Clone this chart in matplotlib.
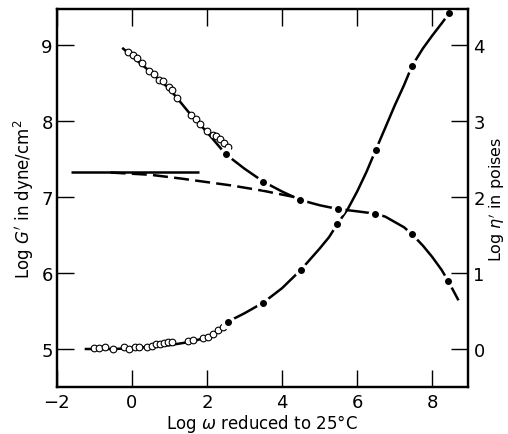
#!/usr/bin/env python3
"""
Log G' e Log eta' versus Log omega reduzido a 25°C
"""

import matplotlib.pyplot as plt

# G' (eixo esquerdo) - pontos abertos
gp_open_x = [-1.02, -0.88, -0.71, -0.50, -0.22, -0.07, 0.07, 0.19, 0.40, 0.53, 0.64,
             0.75, 0.86, 0.97, 1.08, 1.50, 1.63, 1.90, 2.03, 2.16, 2.30, 2.43]
gp_open_y = [5.01, 5.01, 5.02, 5.00, 5.03, 5.00, 5.02, 5.02, 5.03, 5.04, 5.07,
             5.07, 5.08, 5.09, 5.09, 5.10, 5.12, 5.14, 5.16, 5.20, 5.25, 5.29]
# G' - pontos cheios
gp_dot_x = [2.56, 3.50, 4.50, 5.47, 6.49, 7.46, 8.46]
gp_dot_y = [5.36, 5.61, 6.04, 6.64, 7.61, 8.72, 9.42]
# G' - curva desenhada
gp_curve_x = [-1.26, -0.5, 0.0, 0.5, 1.0, 1.5, 2.0, 2.3, 2.56, 3.0, 3.5, 4.0, 4.5,
              5.0, 5.25, 5.47, 5.75, 6.0, 6.25, 6.49, 6.75, 7.0, 7.25, 7.46,
              7.75, 8.0, 8.25, 8.46]
gp_curve_y = [5.00, 5.00, 5.01, 5.03, 5.05, 5.09, 5.15, 5.24, 5.36, 5.47, 5.61, 5.80,
              6.04, 6.32, 6.47, 6.64, 6.84, 7.07, 7.33, 7.61, 7.91, 8.20, 8.47, 8.72,
              8.95, 9.12, 9.28, 9.42]

# eta' (eixo direito) - pontos abertos
eta_open_x = [-0.11, 0.02, 0.13, 0.26, 0.46, 0.60, 0.73, 0.84, 0.99, 1.06, 1.19,
              1.57, 1.70, 1.81, 1.99, 2.16, 2.25, 2.34, 2.46, 2.56]
eta_open_y = [3.90, 3.86, 3.82, 3.76, 3.66, 3.61, 3.54, 3.52, 3.44, 3.40, 3.30,
              3.07, 3.02, 2.96, 2.87, 2.81, 2.80, 2.76, 2.71, 2.65]
# eta' - pontos cheios
eta_dot_x = [2.50, 3.50, 4.48, 5.49, 6.47, 7.46, 8.43]
eta_dot_y = [2.56, 2.20, 1.96, 1.84, 1.78, 1.51, 0.89]
# eta' - curva desenhada
eta_curve_x = [-0.26, 0.5, 1.0, 1.5, 2.0, 2.5, 3.0, 3.5, 4.0, 4.48, 5.0, 5.49,
               6.0, 6.47, 6.75, 7.0, 7.25, 7.46, 7.75, 8.0, 8.25, 8.43, 8.70]
eta_curve_y = [3.96, 3.64, 3.42, 3.12, 2.85, 2.56, 2.37, 2.20, 2.07, 1.96, 1.89,
               1.84, 1.81, 1.78, 1.74, 1.67, 1.60, 1.51, 1.36, 1.21, 1.04, 0.89, 0.64]
# extrapolacao tracejada
eta_dash_x = [-0.57, 0.5, 1.32, 2.65, 3.5, 4.3]
eta_dash_y = [2.32, 2.29, 2.24, 2.15, 2.08, 2.00]
# viscosidade em fluxo estacionario
eta_flow_x = [-1.62, 1.79]
eta_flow_y = [2.33, 2.33]

x_ticks = [-2, 0, 2, 4, 6, 8]
gp_ticks = [5, 6, 7, 8, 9]
eta_ticks = [0, 1, 2, 3, 4]


def criar_grafico():
    fig = plt.figure(figsize=(5.08, 4.35), dpi=100)
    ax = fig.add_axes([0.112, 0.108, 0.809, 0.869])
    ax2 = ax.twinx()

    lw = 1.8
    # G'
    ax.plot(gp_curve_x, gp_curve_y, color='black', lw=lw, solid_capstyle='butt', zorder=2)
    ax.plot(gp_open_x, gp_open_y, 'o', ms=4.8, mfc='white', mec='black', mew=0.8, zorder=3)
    ax.plot(gp_dot_x, gp_dot_y, 'o', ms=9, color='white', zorder=3)
    ax.plot(gp_dot_x, gp_dot_y, 'o', ms=4, color='black', zorder=4)

    # eta'
    ax2.plot(eta_flow_x, eta_flow_y, color='black', lw=lw, solid_capstyle='butt', zorder=2)
    ax2.plot(eta_dash_x, eta_dash_y, color='black', lw=lw, linestyle=(0, (6, 2.5)), zorder=2)
    ax2.plot(eta_curve_x, eta_curve_y, color='black', lw=lw, solid_capstyle='butt', zorder=2)
    ax2.plot(eta_open_x, eta_open_y, 'o', ms=4.8, mfc='white', mec='black', mew=0.8, zorder=3)
    ax2.plot(eta_dot_x, eta_dot_y, 'o', ms=9, color='white', zorder=3)
    ax2.plot(eta_dot_x, eta_dot_y, 'o', ms=4, color='black', zorder=4)

    ax.set_xlim(-1.95, 8.95)
    ax.set_ylim(4.5, 9.47)
    ax2.set_ylim(-0.5, 4.47)

    ax.set_xticks(x_ticks)
    ax.set_yticks(gp_ticks)
    ax2.set_yticks(eta_ticks)

    ax.tick_params(axis='x', direction='in', length=12, width=1, top=True,
                   labelsize=13, pad=4)
    ax.tick_params(axis='y', direction='in', length=12, width=1, right=False,
                   labelsize=13, pad=3)
    ax2.tick_params(axis='y', direction='in', length=12, width=1,
                    labelsize=13, pad=4)

    for a in (ax, ax2):
        for s in a.spines.values():
            s.set_linewidth(1.6)

    ax.set_xlabel(r'Log $\omega$ reduced to 25°C', fontsize=12, labelpad=1)
    ax.set_ylabel(r"Log $G'$ in dyne/cm$^2$", fontsize=12, labelpad=4)
    ax2.set_ylabel(r"Log $\eta'$ in poises", fontsize=11.5, labelpad=1)

    fig.savefig('out.png', dpi=100)
    plt.close(fig)


if __name__ == "__main__":
    criar_grafico()
